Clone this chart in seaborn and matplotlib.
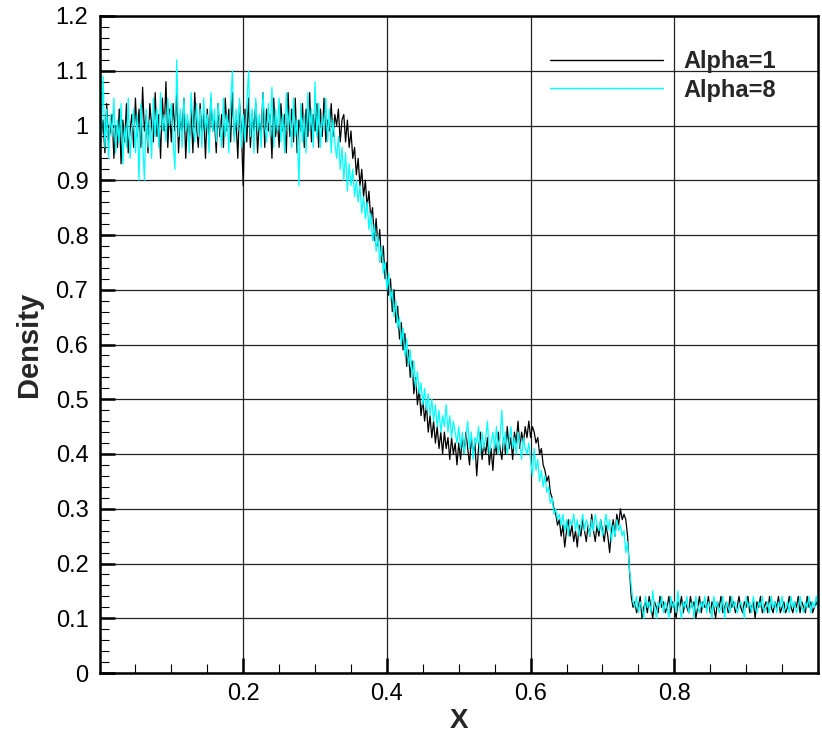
import numpy as np
import pandas as pd
import matplotlib
matplotlib.use("Agg")
import matplotlib.pyplot as plt
import seaborn as sns
from matplotlib.ticker import MultipleLocator, FixedLocator, FormatStrFormatter

# ---- data (x from 0 to 1 in steps of 0.0025) ----
x_step = 0.0025

alpha1_density = [
    # x 0 .. 0.3375
    1.03, 0.98, 1.01, 0.95, 1.04, 0.97, 0.99, 1.02, 0.94, 1.00, 0.96, 1.03, 0.93, 1.01, 0.97, 1.04, 0.95, 0.99, 1.02, 0.96,
    1.05, 0.98, 1.03, 0.96, 1.07, 0.99, 1.02, 0.95, 1.04, 1.00, 0.97, 1.06, 0.98, 1.02, 0.94, 1.05, 0.99, 1.08, 0.96, 1.03,
    0.97, 1.04, 0.99, 1.06, 0.95, 1.02, 0.98, 1.05, 0.94, 1.01, 0.97, 1.03, 0.95, 1.06, 1.00, 0.96, 1.04, 0.98, 1.02, 0.94,
    1.03, 0.97, 1.05, 0.99, 1.01, 0.95, 1.04, 0.98, 1.02, 0.96, 1.05, 0.99, 1.03, 0.97, 1.06, 0.98, 1.01, 0.94, 1.04, 0.99,
    0.89, 1.03, 0.97, 1.05, 0.96, 1.02, 0.99, 1.04, 0.95, 1.01, 0.98, 1.06, 0.96, 1.03, 0.99, 1.02, 0.94, 1.05, 0.98, 1.01,
    0.96, 1.04, 0.99, 1.02, 0.95, 1.06, 0.98, 1.03, 0.97, 1.05, 0.95, 1.01, 0.99, 1.04, 0.96, 1.03, 0.98, 1.06, 0.97, 1.02,
    0.99, 1.04, 0.96, 1.03, 0.98, 1.05, 0.97, 1.01, 0.99, 1.04, 0.98, 1.02, 1.00, 1.03, 0.97, 1.01,
    # x 0.34 .. 0.4975 (expansion fan)
    1.02, 0.97, 1.01, 0.96, 0.99, 0.94, 0.96, 0.91, 0.94, 0.89, 0.92, 0.87, 0.90, 0.85, 0.88, 0.83, 0.85, 0.79, 0.83, 0.78,
    0.81, 0.75, 0.78, 0.72, 0.75, 0.69, 0.72, 0.66, 0.70, 0.64, 0.67, 0.61, 0.64, 0.59, 0.62, 0.56, 0.59, 0.54, 0.57, 0.51,
    0.54, 0.49, 0.52, 0.47, 0.50, 0.46, 0.49, 0.44, 0.47, 0.43, 0.46, 0.42, 0.45, 0.41, 0.44, 0.40, 0.44, 0.41, 0.43, 0.39,
    0.43, 0.40, 0.42, 0.38,
    # x 0.5 .. 0.605 (plateau)
    0.42, 0.39, 0.43, 0.40, 0.44, 0.41, 0.38, 0.43, 0.40, 0.42, 0.36, 0.41, 0.44, 0.39, 0.42, 0.40, 0.43, 0.38, 0.41, 0.37,
    0.42, 0.40, 0.44, 0.41, 0.39, 0.43, 0.40, 0.45, 0.41, 0.43, 0.39, 0.44, 0.42, 0.46, 0.41, 0.44, 0.42, 0.45, 0.43, 0.46,
    0.43, 0.45, 0.44,
    # x 0.6075 .. 0.64 (contact)
    0.42, 0.43, 0.40, 0.41, 0.38, 0.37, 0.35, 0.36, 0.33, 0.32, 0.30, 0.29, 0.27, 0.28,
    # x 0.6425 .. 0.7325 (plateau)
    0.25, 0.27, 0.23, 0.26, 0.28, 0.25, 0.27, 0.24, 0.26, 0.23, 0.27, 0.25, 0.28, 0.26, 0.24, 0.27, 0.25, 0.29, 0.26, 0.24,
    0.27, 0.25, 0.28, 0.26, 0.24, 0.27, 0.25, 0.22, 0.26, 0.28, 0.25, 0.29, 0.27, 0.30, 0.28, 0.29, 0.28,
    # x 0.735 .. 0.7425 (shock)
    0.25, 0.19, 0.14, 0.12,
    # x 0.745 .. 1.0
    0.13, 0.11, 0.12, 0.14, 0.10, 0.12, 0.13, 0.11, 0.14, 0.12, 0.10, 0.13, 0.12, 0.11, 0.14, 0.12, 0.13, 0.11, 0.12, 0.14,
    0.11, 0.13, 0.12, 0.10, 0.13, 0.12, 0.14, 0.11, 0.13, 0.12, 0.11, 0.14, 0.12, 0.13, 0.10, 0.12, 0.14, 0.11, 0.13, 0.12,
    0.12, 0.14, 0.11, 0.13, 0.12, 0.10, 0.13, 0.12, 0.14, 0.11, 0.12, 0.13, 0.11, 0.14, 0.12, 0.13, 0.11, 0.12, 0.14, 0.12,
    0.11, 0.13, 0.12, 0.14, 0.11, 0.12, 0.13, 0.10, 0.13, 0.12, 0.14, 0.11, 0.12, 0.13, 0.11, 0.14, 0.12, 0.11, 0.13, 0.12,
    0.14, 0.11, 0.12, 0.13, 0.11, 0.12, 0.14, 0.12, 0.11, 0.13, 0.12, 0.14, 0.11, 0.13, 0.12, 0.11, 0.14, 0.12, 0.13, 0.11,
    0.12, 0.13, 0.12,
]

alpha8_density = [
    # x 0 .. 0.3275
    1.05, 0.97, 1.09, 0.96, 1.03, 0.94, 1.02, 0.98, 1.05, 0.95, 1.01, 0.97, 1.04, 0.93, 1.00, 0.96, 1.05, 0.94, 0.99, 1.03,
    0.95, 1.02, 0.90, 1.04, 0.97, 0.90, 1.03, 0.96, 1.01, 0.94, 1.05, 0.98, 1.03, 0.96, 1.06, 0.99, 1.02, 0.97, 1.05, 1.00,
    1.04, 0.97, 0.92, 1.12, 0.98, 1.03, 0.96, 1.05, 0.99, 1.02, 0.95, 1.06, 1.00, 0.97, 1.04, 0.98, 1.03, 0.96, 1.05, 0.99,
    1.02, 0.95, 1.06, 0.99, 1.03, 0.97, 1.04, 1.00, 0.96, 1.05, 0.98, 1.02, 0.95, 1.04, 1.10, 0.97, 1.03, 0.99, 1.05, 0.96,
    1.02, 0.97, 1.04, 1.10, 0.98, 1.03, 0.95, 1.05, 0.99, 1.02, 0.96, 1.06, 1.00, 0.97, 1.04, 0.98, 1.07, 0.96, 1.03, 0.99,
    1.05, 0.97, 1.02, 0.95, 1.06, 0.99, 1.03, 0.96, 1.05, 0.98, 1.01, 0.89, 1.04, 0.97, 1.02, 0.95, 1.06, 0.99, 1.03, 0.96,
    1.08, 0.98, 1.04, 0.96, 1.02, 0.99, 1.05, 0.97, 1.03, 0.95, 1.01, 0.97,
    # x 0.33 .. 0.4975 (expansion fan)
    0.94, 0.98, 0.92, 0.96, 0.90, 0.95, 0.88, 0.93, 0.89, 0.92, 0.87, 0.90, 0.86, 0.89, 0.84, 0.87, 0.83, 0.86, 0.81, 0.84,
    0.79, 0.82, 0.77, 0.80, 0.75, 0.78, 0.73, 0.75, 0.70, 0.73, 0.68, 0.70, 0.65, 0.68, 0.63, 0.65, 0.60, 0.63, 0.58, 0.61,
    0.56, 0.59, 0.54, 0.57, 0.52, 0.55, 0.51, 0.53, 0.49, 0.52, 0.48, 0.51, 0.47, 0.50, 0.46, 0.49, 0.45, 0.48, 0.44, 0.47,
    0.45, 0.49, 0.44, 0.47, 0.43, 0.46, 0.44, 0.42,
    # x 0.5 .. 0.5975 (plateau)
    0.45, 0.41, 0.44, 0.40, 0.43, 0.46, 0.41, 0.44, 0.39, 0.43, 0.42, 0.45, 0.40, 0.44, 0.41, 0.43, 0.46, 0.40, 0.42, 0.44,
    0.41, 0.45, 0.40, 0.43, 0.48, 0.41, 0.44, 0.40, 0.42, 0.45, 0.41, 0.43, 0.40, 0.44, 0.42, 0.39, 0.43, 0.41, 0.40, 0.42,
    # x 0.6 .. 0.64 (contact)
    0.39, 0.36, 0.41, 0.37, 0.39, 0.35, 0.37, 0.34, 0.36, 0.33, 0.34, 0.31, 0.32, 0.29, 0.30, 0.28, 0.29,
    # x 0.6425 .. 0.7275 (plateau)
    0.27, 0.29, 0.26, 0.28, 0.25, 0.28, 0.27, 0.29, 0.26, 0.28, 0.25, 0.27, 0.29, 0.26, 0.28, 0.27, 0.25, 0.28, 0.26, 0.29,
    0.27, 0.26, 0.28, 0.25, 0.27, 0.29, 0.26, 0.28, 0.24, 0.27, 0.25, 0.28, 0.26, 0.27, 0.25,
    # x 0.73 .. 0.7425 (shock)
    0.26, 0.22, 0.24, 0.19, 0.16, 0.13,
    # x 0.745 .. 1.0
    0.12, 0.14, 0.11, 0.13, 0.12, 0.10, 0.14, 0.12, 0.13, 0.11, 0.15, 0.12, 0.10, 0.13, 0.12, 0.14, 0.11, 0.13, 0.12, 0.10,
    0.14, 0.12, 0.13, 0.11, 0.15, 0.12, 0.10, 0.13, 0.12, 0.14, 0.11, 0.12, 0.13, 0.10, 0.14, 0.12, 0.11, 0.13, 0.12, 0.14,
    0.11, 0.13, 0.12, 0.10, 0.14, 0.12, 0.13, 0.11, 0.12, 0.14, 0.10, 0.13, 0.12, 0.11, 0.14, 0.12, 0.13, 0.11, 0.12, 0.13,
    0.12, 0.10, 0.14, 0.12, 0.13, 0.11, 0.14, 0.12, 0.11, 0.13, 0.12, 0.14, 0.11, 0.12, 0.13, 0.11, 0.14, 0.12, 0.13, 0.11,
    0.13, 0.12, 0.14, 0.11, 0.12, 0.13, 0.11, 0.14, 0.12, 0.13, 0.11, 0.12, 0.14, 0.12, 0.11, 0.13, 0.12, 0.14, 0.11, 0.13,
    0.12, 0.14, 0.12,
]

series_labels = ["Alpha=1", "Alpha=8"]
series_colors = ["#000000", "#00FFFF"]
x_tick_values = [0.2, 0.4, 0.6, 0.8]
y_tick_values = [0, 0.1, 0.2, 0.3, 0.4, 0.5, 0.6, 0.7, 0.8, 0.9, 1.0, 1.1, 1.2]

# ---- build long-form table ----
n1, n8 = len(alpha1_density), len(alpha8_density)
x1 = np.round(np.arange(n1) * x_step, 5)
x8 = np.round(np.arange(n8) * x_step, 5)
df = pd.DataFrame({
    "X": np.concatenate([x1, x8]),
    "Density": alpha1_density + alpha8_density,
    "Series": [series_labels[0]] * n1 + [series_labels[1]] * n8,
})

sns.set_theme(style="white")
plt.rcParams["font.family"] = ["Liberation Sans", "DejaVu Sans"]

W, H = 822, 733
fig = plt.figure(figsize=(W / 100, H / 100), dpi=100)
ax = fig.add_axes([99.5 / W, 60 / H, 718.5 / W, 657 / H])

sns.lineplot(data=df, x="X", y="Density", hue="Series",
             palette=dict(zip(series_labels, series_colors)),
             estimator=None, sort=False, linewidth=0.9, ax=ax, legend=True)

ax.set_xlim(0, 1.0)
ax.set_ylim(0, 1.2)

ax.xaxis.set_major_locator(FixedLocator(x_tick_values))
ax.xaxis.set_minor_locator(MultipleLocator(0.05))
ax.yaxis.set_major_locator(FixedLocator(y_tick_values))
ax.yaxis.set_minor_locator(MultipleLocator(0.02))
ax.xaxis.set_major_formatter(FormatStrFormatter("%g"))
ax.yaxis.set_major_formatter(FormatStrFormatter("%g"))

ax.grid(True, which="major", color="#222222", linewidth=0.9)
ax.set_axisbelow(True)

ax.tick_params(axis="both", which="major", direction="in", length=11, width=1.8,
               labelsize=17, color="black", labelcolor="black")
ax.tick_params(axis="both", which="minor", direction="in", length=6.5, width=0.8,
               color="black")
ax.tick_params(axis="y", which="both", left=True, right=False, pad=8)
ax.tick_params(axis="x", which="both", bottom=True, top=False, pad=7)

for s in ax.spines.values():
    s.set_visible(True)
    s.set_color("black")
    s.set_linewidth(1.8)

ax.set_xlabel("X", fontsize=20, fontweight="bold", labelpad=2)
ax.set_ylabel("Density", fontsize=21, fontweight="bold", labelpad=9)

handles, labels = ax.get_legend_handles_labels()
leg = ax.legend(handles, labels, loc="upper left",
                bbox_to_anchor=(550 / W, 1 - 50 / H), bbox_transform=fig.transFigure,
                frameon=False, prop={"size": 17, "weight": "bold"},
                handlelength=4.8, handletextpad=0.85, labelspacing=0.24,
                borderpad=0, borderaxespad=0)
for line in leg.get_lines():
    line.set_linewidth(1.0)

fig.savefig("out.png", dpi=100)
